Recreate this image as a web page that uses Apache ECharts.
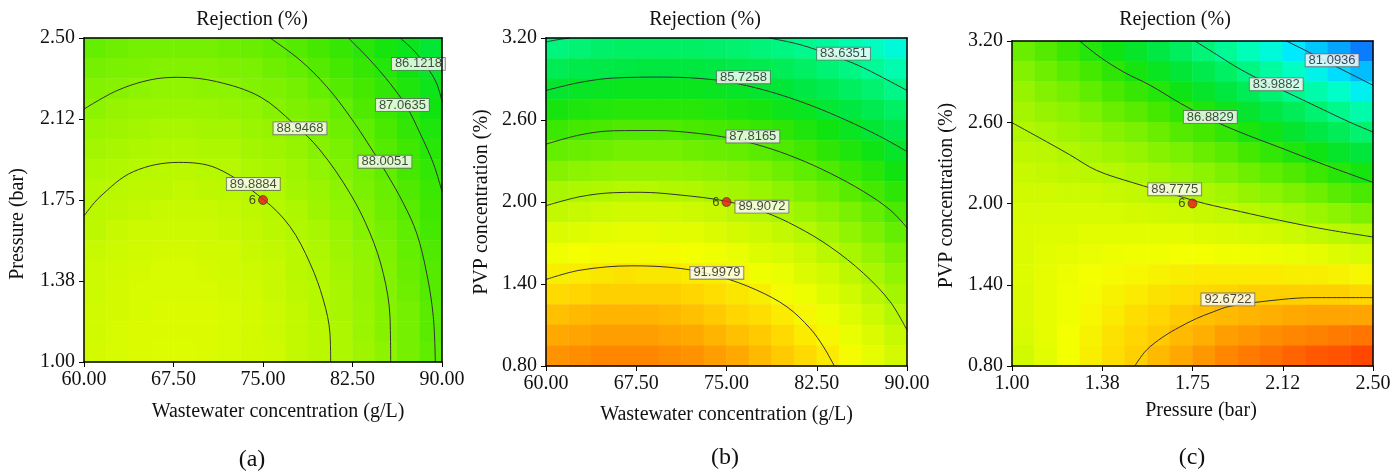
<!DOCTYPE html>
<html>
<head>
<meta charset="utf-8">
<title>Rejection (%) contour plots</title>
<script src="https://cdn.jsdelivr.net/npm/echarts@6/dist/echarts.min.js"></script>
<style>
html, body { margin: 0; padding: 0; background: #fff; }
#chart { width: 1394px; height: 474px; }
</style>
</head>
<body>
<div id="chart"></div>
<script>
// ---- tick values and labels ----
const wasteTicks = [60, 67.5, 75, 82.5, 90];
const wasteLabels = ['60.00', '67.50', '75.00', '82.50', '90.00'];
const pressTicks = [1.0, 1.375, 1.75, 2.125, 2.5];
const pressLabels = ['1.00', '1.38', '1.75', '2.12', '2.50'];
const pvpTicks = [0.8, 1.4, 2.0, 2.6, 3.2];
const pvpLabels = ['0.80', '1.40', '2.00', '2.60', '3.20'];

// ---- response, 16 x 16 cells, top row first ----
// (a) wastewater vs pressure
const aCells = [
  [88.2, 88.4, 88.5, 88.5, 88.5, 88.5, 88.4, 88.3, 88.1, 87.9, 87.6, 87.3, 87.0, 86.6, 86.2, 85.7],
  [88.5, 88.6, 88.7, 88.8, 88.8, 88.8, 88.7, 88.6, 88.4, 88.2, 87.9, 87.6, 87.3, 86.9, 86.5, 86.0],
  [88.8, 88.9, 89.0, 89.1, 89.1, 89.0, 89.0, 88.8, 88.7, 88.5, 88.2, 87.9, 87.6, 87.2, 86.8, 86.3],
  [89.0, 89.2, 89.3, 89.3, 89.3, 89.3, 89.2, 89.1, 88.9, 88.7, 88.5, 88.2, 87.8, 87.4, 87.0, 86.5],
  [89.3, 89.4, 89.5, 89.6, 89.6, 89.5, 89.5, 89.3, 89.2, 89.0, 88.7, 88.4, 88.1, 87.7, 87.2, 86.8],
  [89.5, 89.6, 89.7, 89.8, 89.8, 89.7, 89.7, 89.5, 89.4, 89.2, 88.9, 88.6, 88.3, 87.9, 87.5, 87.0],
  [89.7, 89.8, 89.9, 90.0, 90.0, 89.9, 89.9, 89.7, 89.6, 89.4, 89.1, 88.8, 88.5, 88.1, 87.6, 87.2],
  [89.9, 90.0, 90.1, 90.1, 90.2, 90.1, 90.0, 89.9, 89.8, 89.5, 89.3, 89.0, 88.6, 88.3, 87.8, 87.4],
  [90.0, 90.1, 90.2, 90.3, 90.3, 90.3, 90.2, 90.1, 89.9, 89.7, 89.4, 89.1, 88.8, 88.4, 88.0, 87.5],
  [90.1, 90.3, 90.4, 90.4, 90.4, 90.4, 90.3, 90.2, 90.0, 89.8, 89.6, 89.3, 88.9, 88.5, 88.1, 87.6],
  [90.3, 90.4, 90.5, 90.6, 90.6, 90.5, 90.5, 90.3, 90.2, 90.0, 89.7, 89.4, 89.1, 88.7, 88.2, 87.8],
  [90.4, 90.5, 90.6, 90.7, 90.7, 90.6, 90.5, 90.4, 90.3, 90.0, 89.8, 89.5, 89.2, 88.8, 88.3, 87.9],
  [90.4, 90.6, 90.7, 90.7, 90.7, 90.7, 90.6, 90.5, 90.3, 90.1, 89.9, 89.6, 89.2, 88.8, 88.4, 87.9],
  [90.5, 90.6, 90.7, 90.8, 90.8, 90.8, 90.7, 90.6, 90.4, 90.2, 89.9, 89.6, 89.3, 88.9, 88.5, 88.0],
  [90.5, 90.7, 90.8, 90.8, 90.8, 90.8, 90.7, 90.6, 90.4, 90.2, 90.0, 89.7, 89.3, 88.9, 88.5, 88.0],
  [90.6, 90.7, 90.8, 90.9, 90.9, 90.8, 90.7, 90.6, 90.5, 90.2, 90.0, 89.7, 89.4, 89.0, 88.5, 88.1]
];
// (b) wastewater vs PVP
const bCells = [
  [84.0, 84.2, 84.4, 84.5, 84.5, 84.5, 84.5, 84.4, 84.3, 84.1, 83.9, 83.7, 83.4, 83.0, 82.7, 82.2],
  [84.9, 85.1, 85.2, 85.3, 85.4, 85.4, 85.4, 85.3, 85.1, 85.0, 84.8, 84.5, 84.2, 83.9, 83.5, 83.0],
  [85.8, 86.0, 86.1, 86.2, 86.2, 86.2, 86.2, 86.1, 86.0, 85.8, 85.6, 85.3, 85.0, 84.6, 84.3, 83.8],
  [86.6, 86.8, 86.9, 87.0, 87.0, 87.0, 87.0, 86.9, 86.7, 86.6, 86.3, 86.1, 85.7, 85.4, 85.0, 84.5],
  [87.4, 87.6, 87.7, 87.8, 87.8, 87.8, 87.7, 87.6, 87.5, 87.3, 87.1, 86.8, 86.5, 86.1, 85.7, 85.2],
  [88.2, 88.3, 88.4, 88.5, 88.5, 88.5, 88.4, 88.3, 88.2, 88.0, 87.8, 87.5, 87.1, 86.8, 86.4, 85.9],
  [88.9, 89.0, 89.1, 89.2, 89.2, 89.2, 89.1, 89.0, 88.9, 88.7, 88.4, 88.1, 87.8, 87.4, 87.0, 86.5],
  [89.6, 89.7, 89.8, 89.9, 89.9, 89.8, 89.8, 89.6, 89.5, 89.3, 89.0, 88.7, 88.4, 88.0, 87.6, 87.1],
  [90.2, 90.3, 90.4, 90.5, 90.5, 90.5, 90.4, 90.3, 90.1, 89.9, 89.6, 89.3, 89.0, 88.6, 88.2, 87.7],
  [90.8, 90.9, 91.0, 91.1, 91.1, 91.0, 91.0, 90.8, 90.6, 90.4, 90.2, 89.9, 89.5, 89.1, 88.7, 88.2],
  [91.4, 91.5, 91.6, 91.6, 91.6, 91.6, 91.5, 91.4, 91.2, 90.9, 90.7, 90.4, 90.0, 89.6, 89.2, 88.7],
  [91.9, 92.0, 92.1, 92.2, 92.1, 92.1, 92.0, 91.9, 91.7, 91.4, 91.2, 90.8, 90.5, 90.1, 89.6, 89.1],
  [92.4, 92.5, 92.6, 92.6, 92.6, 92.6, 92.5, 92.3, 92.1, 91.9, 91.6, 91.3, 90.9, 90.5, 90.0, 89.5],
  [92.9, 93.0, 93.1, 93.1, 93.1, 93.0, 92.9, 92.7, 92.5, 92.3, 92.0, 91.7, 91.3, 90.9, 90.4, 89.9],
  [93.3, 93.4, 93.5, 93.5, 93.5, 93.4, 93.3, 93.1, 92.9, 92.7, 92.4, 92.0, 91.7, 91.2, 90.8, 90.3],
  [93.7, 93.8, 93.9, 93.9, 93.9, 93.8, 93.7, 93.5, 93.3, 93.0, 92.7, 92.4, 92.0, 91.6, 91.1, 90.6]
];
// (c) pressure vs PVP
const cCells = [
  [88.3, 87.9, 87.4, 86.9, 86.4, 85.9, 85.3, 84.7, 84.1, 83.5, 82.8, 82.2, 81.5, 80.7, 80.0, 79.2],
  [88.8, 88.4, 88.0, 87.6, 87.1, 86.6, 86.1, 85.6, 85.1, 84.5, 83.9, 83.3, 82.6, 81.9, 81.2, 80.5],
  [89.2, 88.8, 88.5, 88.1, 87.7, 87.3, 86.9, 86.4, 85.9, 85.4, 84.9, 84.3, 83.7, 83.1, 82.5, 81.8],
  [89.5, 89.2, 89.0, 88.7, 88.3, 88.0, 87.6, 87.2, 86.8, 86.3, 85.8, 85.3, 84.8, 84.3, 83.7, 83.1],
  [89.8, 89.6, 89.4, 89.2, 88.9, 88.6, 88.3, 87.9, 87.6, 87.2, 86.7, 86.3, 85.8, 85.3, 84.8, 84.3],
  [90.1, 90.0, 89.8, 89.6, 89.4, 89.2, 88.9, 88.6, 88.3, 88.0, 87.6, 87.2, 86.8, 86.4, 85.9, 85.5],
  [90.3, 90.2, 90.1, 90.0, 89.9, 89.7, 89.5, 89.3, 89.0, 88.7, 88.4, 88.1, 87.8, 87.4, 87.0, 86.6],
  [90.5, 90.5, 90.4, 90.4, 90.3, 90.2, 90.0, 89.9, 89.7, 89.5, 89.2, 89.0, 88.7, 88.4, 88.0, 87.7],
  [90.7, 90.7, 90.7, 90.7, 90.7, 90.6, 90.5, 90.4, 90.3, 90.2, 90.0, 89.8, 89.6, 89.3, 89.0, 88.7],
  [90.8, 90.9, 90.9, 91.0, 91.0, 91.0, 91.0, 91.0, 90.9, 90.8, 90.7, 90.6, 90.4, 90.2, 90.0, 89.8],
  [90.8, 91.0, 91.1, 91.2, 91.3, 91.4, 91.4, 91.5, 91.5, 91.4, 91.4, 91.3, 91.2, 91.1, 90.9, 90.7],
  [90.9, 91.1, 91.3, 91.5, 91.6, 91.7, 91.8, 91.9, 92.0, 92.0, 92.0, 92.0, 91.9, 91.9, 91.8, 91.7],
  [90.8, 91.1, 91.4, 91.6, 91.8, 92.0, 92.2, 92.3, 92.4, 92.5, 92.6, 92.6, 92.6, 92.6, 92.6, 92.5],
  [90.8, 91.1, 91.4, 91.7, 92.0, 92.3, 92.5, 92.7, 92.9, 93.0, 93.1, 93.2, 93.3, 93.4, 93.4, 93.4],
  [90.7, 91.1, 91.5, 91.8, 92.2, 92.5, 92.7, 93.0, 93.2, 93.5, 93.6, 93.8, 93.9, 94.0, 94.1, 94.2],
  [90.5, 91.0, 91.5, 91.9, 92.3, 92.6, 93.0, 93.3, 93.6, 93.9, 94.1, 94.3, 94.5, 94.7, 94.8, 95.0]
];

// ---- contour levels and traced lines ----
const aLevels = ['89.8884', '88.9468', '88.0051', '87.0635', '86.1218'];
const aLines = [
  [[60.0, 1.676], [61.34, 1.765], [64.13, 1.881], [67.91, 1.924], [71.12, 1.897], [75.03, 1.753], [77.26, 1.627], [78.94, 1.457], [80.06, 1.287], [80.61, 1.133], [80.67, 1.0]],
  [[60.0, 2.171], [62.74, 2.256], [65.53, 2.306], [67.91, 2.318], [71.12, 2.298], [74.75, 2.228], [77.54, 2.105], [79.78, 1.981], [82.29, 1.781], [83.97, 1.596], [85.08, 1.41], [85.64, 1.21], [85.7, 1.0]],
  [[75.59, 2.5], [78.1, 2.398], [80.34, 2.275], [82.29, 2.136], [83.97, 1.997], [85.36, 1.873], [86.76, 1.735], [87.88, 1.596], [88.72, 1.41], [89.27, 1.21], [89.44, 1.0]],
  [[82.15, 2.5], [83.97, 2.398], [85.64, 2.29], [87.04, 2.182], [88.16, 2.059], [89.27, 1.92], [90.0, 1.789]],
  [[86.48, 2.5], [87.6, 2.444], [88.72, 2.367], [89.55, 2.29], [90.0, 2.205]]
];
const aLabelAt = [[74.19, 1.824], [78.1, 2.082], [85.22, 1.927], [86.68, 2.19], [88.02, 2.38]];

const bLevels = ['91.9979', '89.9072', '87.8165', '85.7258', '83.6351'];
const bLines = [
  [[60.0, 1.433], [62.83, 1.501], [67.13, 1.533], [71.15, 1.514], [74.47, 1.453], [77.52, 1.355], [80.02, 1.233], [81.96, 1.074], [83.07, 0.939], [83.96, 0.8]],
  [[60.0, 1.973], [62.83, 2.039], [65.6, 2.068], [67.82, 2.071], [71.15, 2.051], [74.89, 2.007], [78.08, 1.929], [80.85, 1.819], [83.62, 1.672], [86.4, 1.477], [88.61, 1.269], [90.0, 1.062]],
  [[60.0, 2.423], [62.83, 2.491], [65.6, 2.521], [69.21, 2.523], [72.53, 2.503], [75.3, 2.467], [78.08, 2.406], [80.85, 2.32], [83.62, 2.21], [86.4, 2.076], [88.61, 1.941], [90.0, 1.812]],
  [[60.0, 2.816], [62.83, 2.875], [65.6, 2.907], [69.76, 2.914], [73.92, 2.895], [76.69, 2.851], [79.46, 2.785], [82.24, 2.699], [85.01, 2.596], [87.78, 2.479], [90.0, 2.369]],
  [[78.55, 3.2], [81.13, 3.151], [83.62, 3.078], [85.84, 3.004], [88.06, 2.907], [90.0, 2.816]],
  [[60.0, 3.171], [61.0, 3.188], [62.0, 3.2]]
];
const bLabelAt = [[74.2, 1.482], [77.94, 1.966], [77.19, 2.479], [76.41, 2.912], [84.73, 3.085]];

const cLevels = ['92.6722', '89.7775', '86.8829', '83.9882', '81.0936'];
const cLines = [
  [[1.51, 0.8], [1.558, 0.916], [1.627, 1.014], [1.697, 1.088], [1.766, 1.15], [1.835, 1.199], [1.905, 1.241], [2.113, 1.29], [2.251, 1.305], [2.5, 1.305]],
  [[1.0, 2.597], [1.143, 2.457], [1.24, 2.36], [1.351, 2.245], [1.5, 2.155], [1.683, 2.06], [1.8, 2.0], [1.95, 1.94], [2.112, 1.876], [2.3, 1.81], [2.5, 1.753]],
  [[1.281, 3.2], [1.365, 3.082], [1.465, 2.97], [1.572, 2.875], [1.7, 2.74], [1.821, 2.625], [1.95, 2.525], [2.126, 2.405], [2.3, 2.285], [2.5, 2.156]],
  [[1.76, 3.2], [1.85, 3.1], [1.94, 3.0], [2.03, 2.915], [2.125, 2.835], [2.22, 2.755], [2.32, 2.67], [2.41, 2.595], [2.5, 2.528]],
  [[2.14, 3.2], [2.225, 3.125], [2.32, 3.035], [2.415, 2.95], [2.5, 2.873]]
];
const cLabelAt = [[1.897, 1.292], [1.676, 2.105], [1.824, 2.639], [2.098, 2.88], [2.33, 3.057]];

// design centre point (run count 6)
const centrePoints = [[75, 1.75], [75, 2.0], [1.75, 2.0]];

// colour scale, one stop per 1 % from 77.5 to 95.5
const scaleColors = [
  '#0a3cff', '#0a5aff', '#0a8cff', '#00beff', '#00eaff', '#00ffc8', '#00fa96',
  '#00f064', '#00e63c', '#10e410', '#40e800', '#74f000', '#a4f600', '#d0fa00',
  '#f4ff00', '#ffd600', '#ff9e00', '#ff6400', '#ff2a00'
];

const SERIF = 'Liberation Serif';
const SANS = 'Liberation Sans';
const cellIndex = Array.from({ length: 16 }, (_, i) => i);

function labelFor(v, ticks, labels) {
    const i = ticks.findIndex(t => Math.abs(t - v) < 1e-6);
    return i < 0 ? '' : labels[i];
}

function toHeat(rows) {
    const out = [];
    rows.forEach((row, r) => {
        row.forEach((val, c) => out.push([c, rows.length - 1 - r, val]));
    });
    return out;
}

const panels = [
    {
        grid: { left: 84, top: 38, width: 358, height: 324 },
        x: [60, 90, wasteTicks, wasteLabels, 'Wastewater concentration (g/L)', 40, [0, 0, 0, 30]],
        y: [1.0, 2.5, pressTicks, pressLabels, 'Pressure (bar)', 56, [0, 48, 0, 0]],
        cells: aCells, levels: aLevels, lines: aLines, labelAt: aLabelAt
    },
    {
        grid: { left: 546, top: 38, width: 361, height: 328 },
        x: [60, 90, wasteTicks, wasteLabels, 'Wastewater concentration (g/L)', 39, 0],
        y: [0.8, 3.2, pvpTicks, pvpLabels, 'PVP concentration (%)', 54, 0],
        cells: bCells, levels: bLevels, lines: bLines, labelAt: bLabelAt
    },
    {
        grid: { left: 1012, top: 41, width: 361, height: 325 },
        x: [1.0, 2.5, pressTicks, pressLabels, 'Pressure (bar)', 35, [0, 0, 0, 17]],
        y: [0.8, 3.2, pvpTicks, pvpLabels, 'PVP concentration (%)', 55, [0, 0, 0, 16]],
        cells: cCells, levels: cLevels, lines: cLines, labelAt: cLabelAt
    }
];

const grids = [], xAxes = [], yAxes = [], series = [], heatIdx = [];

panels.forEach((p, k) => {
    grids.push(p.grid);
    const frame = { show: true, lineStyle: { color: '#000', width: 1.5 } };
    const tickFont = { fontFamily: SERIF, fontSize: 20, color: '#111' };
    const nameFont = (pad) => ({ fontFamily: SERIF, fontSize: 20, color: '#111', padding: pad });

    // hidden category axes carry the heatmap cells, and draw the top / right frame
    xAxes.push({
        type: 'category', gridIndex: k, position: 'top', data: cellIndex, z: 10,
        axisLine: frame, axisTick: { show: false }, axisLabel: { show: false }, splitLine: { show: false }
    });
    yAxes.push({
        type: 'category', gridIndex: k, position: 'right', data: cellIndex, z: 10,
        axisLine: frame, axisTick: { show: false }, axisLabel: { show: false }, splitLine: { show: false }
    });

    const [x0, x1, xt, xl, xn, xg, xp] = p.x;
    const [y0, y1, yt, yl, yn, yg, yp] = p.y;
    xAxes.push({
        type: 'value', gridIndex: k, position: 'bottom', min: x0, max: x1, z: 10,
        name: xn, nameLocation: 'middle', nameGap: xg, nameTextStyle: nameFont(xp),
        axisLine: { show: true, onZero: false, lineStyle: { color: '#000', width: 1.5 } },
        axisTick: { show: true, length: 5, customValues: xt, lineStyle: { color: '#000' } },
        axisLabel: Object.assign({ customValues: xt, margin: 8, formatter: v => labelFor(v, xt, xl) }, tickFont),
        splitLine: { show: false }
    });
    yAxes.push({
        type: 'value', gridIndex: k, position: 'left', min: y0, max: y1, z: 10,
        name: yn, nameLocation: 'middle', nameGap: yg, nameTextStyle: nameFont(yp),
        axisLine: { show: true, onZero: false, lineStyle: { color: '#000', width: 1.5 } },
        axisTick: { show: true, length: 5, customValues: yt, lineStyle: { color: '#000' } },
        axisLabel: Object.assign({ customValues: yt, margin: 9, formatter: v => labelFor(v, yt, yl) }, tickFont),
        splitLine: { show: false }
    });

    const cat = 2 * k, val = 2 * k + 1;
    heatIdx.push(series.length);
    series.push({
        type: 'heatmap', xAxisIndex: cat, yAxisIndex: cat, data: toHeat(p.cells),
        silent: true, z: 1, emphasis: { disabled: true }, progressive: 0
    });

    p.lines.forEach(line => {
        series.push({
            type: 'line', xAxisIndex: val, yAxisIndex: val, data: line, smooth: 0.35,
            symbol: 'none', silent: true, z: 3,
            lineStyle: { color: '#333', width: 1 }
        });
    });

    series.push({
        type: 'scatter', xAxisIndex: val, yAxisIndex: val, silent: true, z: 4,
        symbolSize: 0.1, itemStyle: { color: 'transparent' },
        data: p.labelAt.map((pt, i) => ({ name: p.levels[i], value: pt })),
        label: {
            show: true, position: 'inside', formatter: '{b}',
            fontFamily: SANS, fontSize: 13, color: '#1a1a1a', lineHeight: 13,
            backgroundColor: '#fff', borderColor: '#666', borderWidth: 0.9, padding: [0, 3, -1, 3]
        }
    });

    series.push({
        type: 'scatter', xAxisIndex: val, yAxisIndex: val, silent: true, z: 5,
        data: [centrePoints[k]], symbolSize: 9,
        itemStyle: { color: '#e8141b', borderColor: '#333', borderWidth: 0.8 },
        label: { show: true, position: 'left', distance: 2, formatter: '6', fontFamily: SANS, fontSize: 13, color: '#222' }
    });
});

const textEl = (text, x, y, size) => ({
    type: 'text', x: x, y: y, silent: true,
    style: { text: text, align: 'center', verticalAlign: 'middle', fontFamily: SERIF, fontSize: size, fill: '#111' }
});

const option = {
    animation: false,
    backgroundColor: '#fff',
    grid: grids,
    xAxis: xAxes,
    yAxis: yAxes,
    visualMap: {
        type: 'continuous', show: false, min: 77.5, max: 95.5, seriesIndex: heatIdx,
        inRange: { color: scaleColors }
    },
    graphic: [
        textEl('Rejection (%)', 252, 20, 20),
        textEl('Rejection (%)', 705, 20, 20),
        textEl('Rejection (%)', 1175, 20, 20),
        textEl('(a)', 252, 460, 24),
        textEl('(b)', 725, 458, 24),
        textEl('(c)', 1192, 458, 24)
    ],
    series: series
};

const chart = echarts.init(document.getElementById('chart'));
chart.setOption(option);
</script>
</body>
</html>
